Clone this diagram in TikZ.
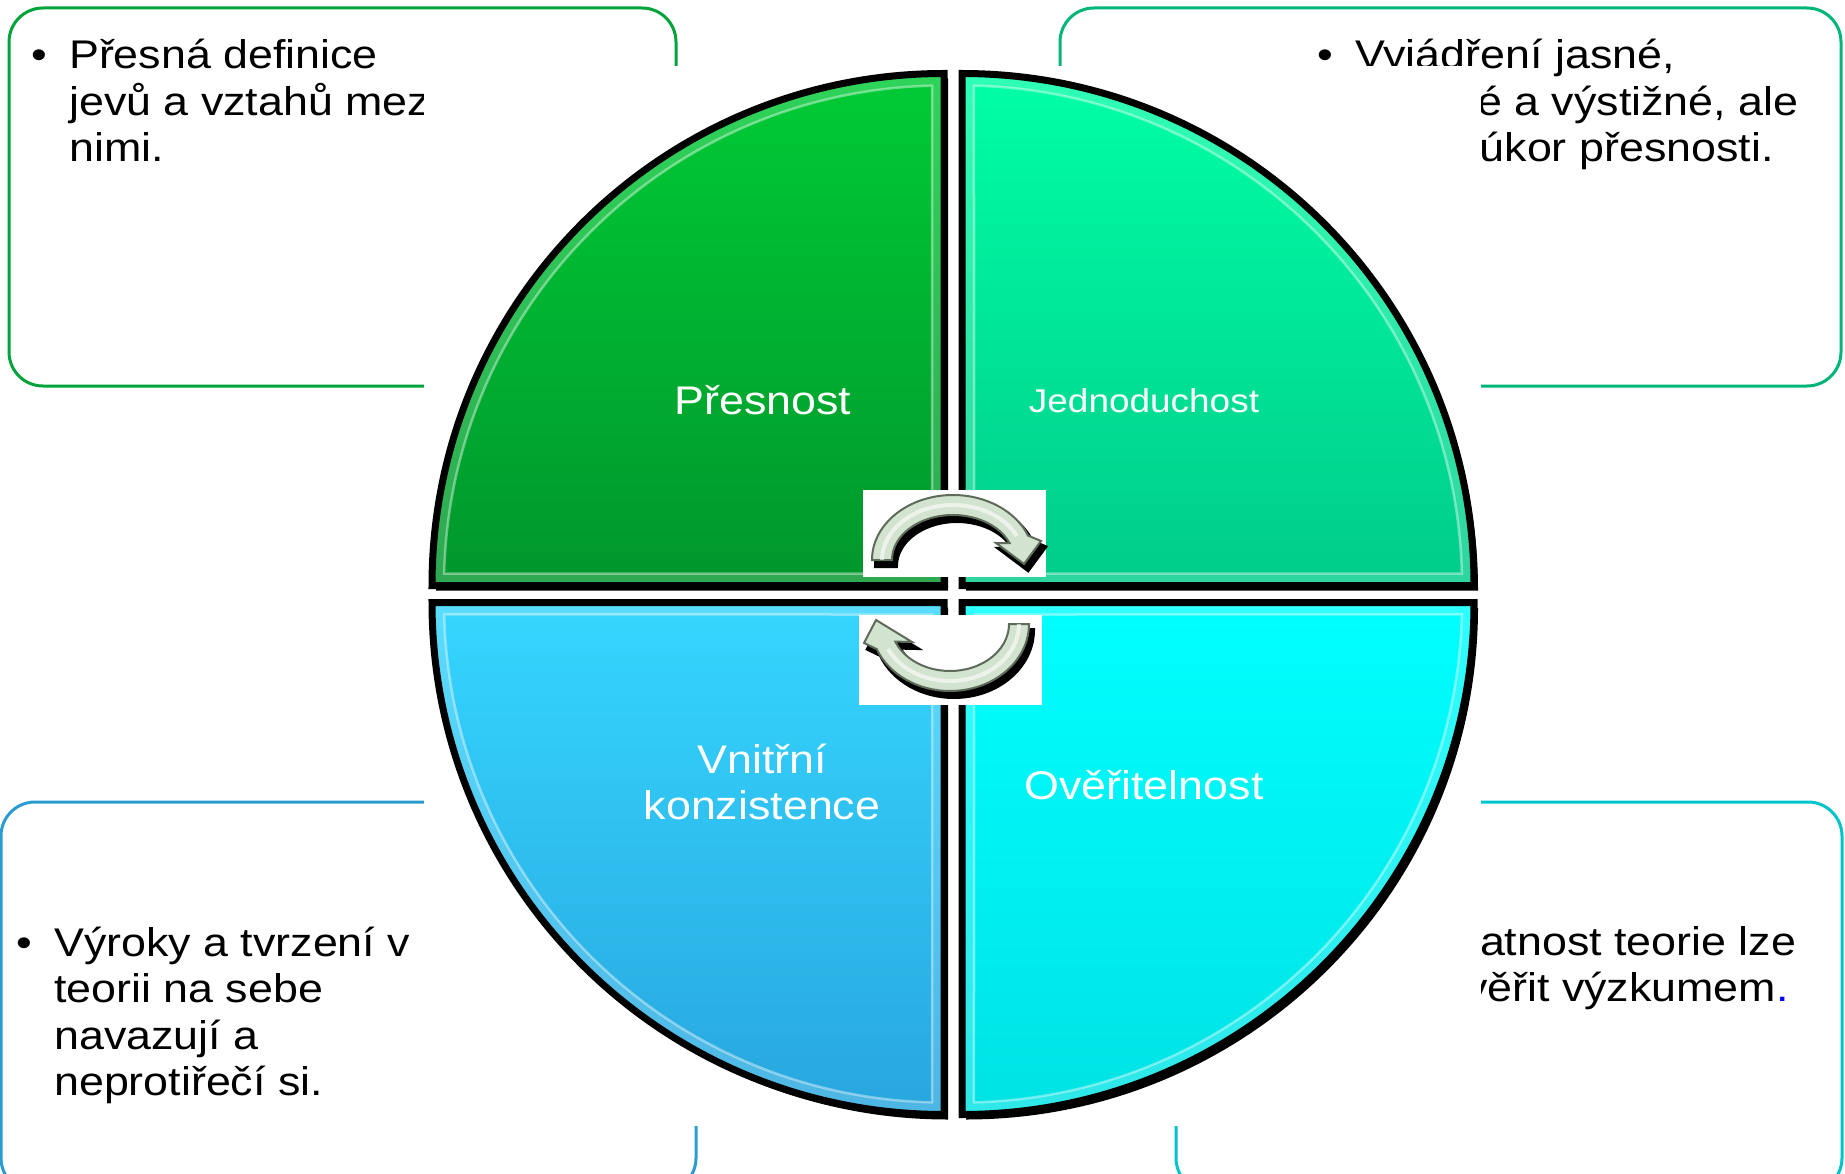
\documentclass[tikz,border=0pt]{standalone}
\usepackage{fontspec}
\setmainfont{Liberation Sans}[FakeStretch=1.12]
\usetikzlibrary{calc}

\definecolor{grnTop}{HTML}{00CB35}
\definecolor{grnBot}{HTML}{00962C}
\definecolor{grnLine}{HTML}{00A43A}
\definecolor{tealTop}{HTML}{00FFA6}
\definecolor{tealBot}{HTML}{00CC8A}
\definecolor{tealLine}{HTML}{00B57A}
\definecolor{bluTop}{HTML}{35D6FF}
\definecolor{bluBot}{HTML}{28A6DE}
\definecolor{bluLine}{HTML}{2A9CD2}
\definecolor{cyaTop}{HTML}{00FFFF}
\definecolor{cyaBot}{HTML}{00E2E4}
\definecolor{cyaLine}{HTML}{00C4CC}
\definecolor{arrowFill}{HTML}{D2E3CF}
\definecolor{arrowEdge}{HTML}{5E6B5B}

\newcommand{\notesize}{\fontsize{40}{46.5}\selectfont}
\newcommand{\bulletnote}[1]{\parbox[t]{720pt}{\hangindent=38pt\hangafter=1\makebox[38pt][l]{\textbullet}#1}}

\tikzset{
  notebox/.style={draw=#1, line width=3pt, rounded corners=34pt, fill=white},
  notetext/.style={anchor=base west, inner sep=0pt, font=\notesize},
  segtext/.style={anchor=base, inner sep=0pt, text=white, font=\notesize},
  arrowshade/.style={fill=black, draw=black, line width=4pt},
  arrowbody/.style={fill=arrowFill, draw=arrowEdge, line width=2pt},
}

\begin{document}
\begin{tikzpicture}[x=1pt, y=1pt]
  \pgfmathsetmacro{\R}{512}
  \pgfmathsetmacro{\inset}{12}
  \useasboundingbox (0,0) rectangle (1845,-1174);
  \clip (0,0) rectangle (1845,-1174);

  \draw[notebox=grnLine] (9,-8) rectangle (676,-386);
  \draw[notebox=tealLine] (1060,-8) rectangle (1841,-386);
  \draw[notebox=bluLine] (1,-802) rectangle (696,-1192);
  \draw[notebox=cyaLine] (1176,-802) rectangle (1842,-1192);

  \node[notetext] (notePres) at (31,-69) {\bulletnote{Přesná definice\newline jevů a vztahů mezi\newline nimi.}};
  \node[notetext] (noteJedn) at (1317,-69) {\bulletnote{Vyjádření jasné,\newline stručné a výstižné, ale\newline ne na úkor přesnosti.}};
  \node[notetext] (noteVnit) at (16,-956) {\bulletnote{Výroky a tvrzení v\newline teorii na sebe\newline navazují a\newline neprotiřečí si.}};
  \node[notetext] (noteOver) at (1402,-955) {\bulletnote{Platnost teorie lze\newline ověřit výzkumem{\color{blue}.}}};

  \fill[white] (424,-66) rectangle (1481,-1126);

  \foreach \sx/\sy/\ang/\ctop/\cbot in {-1/1/90/grnTop/grnBot, 1/1/0/tealTop/tealBot, -1/-1/180/bluTop/bluBot, 1/-1/270/cyaTop/cyaBot} {
    \pgfmathsetmacro{\cx}{953+9*\sx}
    \pgfmathsetmacro{\cy}{-594+8.5*\sy}
    \pgfmathsetmacro{\da}{asin(\inset/(\R-\inset))}
    \fill[black, shift={(4,-5)}] (\cx,\cy) -- ++(\ang:\R) arc[start angle=\ang, delta angle=90, radius=\R] -- cycle;
    \shade[top color=\ctop, bottom color=\cbot] (\cx,\cy) -- ++(\ang:\R) arc[start angle=\ang, delta angle=90, radius=\R] -- cycle;
    \begin{scope}
      \clip (\cx,\cy) -- ++(\ang:\R) arc[start angle=\ang, delta angle=90, radius=\R] -- cycle;
      \draw[white, opacity=.18, line width=2*\inset] (\cx,\cy) -- ++(\ang:\R) arc[start angle=\ang, delta angle=90, radius=\R] -- cycle;
    \end{scope}
    \draw[white, opacity=.4, line width=2.5] (\cx+\inset*\sx,\cy+\inset*\sy) -- ($(\cx,\cy)+(\ang+\da:\R-\inset)$) arc[start angle=\ang+\da, end angle=\ang+90-\da, radius=\R-\inset] -- cycle;
    \draw[black, line width=7] (\cx,\cy) -- ++(\ang:\R) arc[start angle=\ang, delta angle=90, radius=\R] -- cycle;
  }

  \node[segtext] (pres) at (763,-414) {Přesnost};
  \node[segtext, font=\fontsize{33}{38}\selectfont] (jedn) at (1144,-412) {Jednoduchost};
  \node[text=white, inner sep=0pt, align=center, font=\fontsize{40}{46}\selectfont] (vnit) at (762,-781.5) {Vnitřní\\konzistence};
  \node[segtext] (over) at (1144,-799) {Ověřitelnost};

  \fill[white] (863,-490) rectangle (1046,-577);
  \begin{scope}[shift={(953,-560)}]
    \foreach \dx/\dy/\sty in {4/-6/arrowshade, 0/0/arrowbody}
      \path[\sty, shift={(\dx,\dy)}] (180:81 and 65) arc[start angle=180, end angle=22, x radius=81, y radius=65] -- (88,19) -- (71,-4) -- (43,17) -- (22:61 and 45) arc[start angle=22, end angle=180, x radius=61, y radius=45] -- cycle;
    \draw[white, opacity=.6, line width=4] (180:71 and 55) arc[start angle=180, end angle=26, x radius=71, y radius=55];
  \end{scope}

  \fill[white] (859,-615) rectangle (1042,-705);
  \begin{scope}[shift={(950,-624)}]
    \foreach \dx/\dy/\sty in {4/-6/arrowshade, 0/0/arrowbody}
      \path[\sty, shift={(\dx,\dy)}] (0:79 and 67) arc[start angle=0, end angle=-158, x radius=79, y radius=67] -- (-86,-19) -- (-74,4) -- (-38,-18) -- (-158:59 and 47) arc[start angle=-158, end angle=0, x radius=59, y radius=47] -- cycle;
    \draw[white, opacity=.6, line width=4] (0:69 and 57) arc[start angle=0, end angle=-154, x radius=69, y radius=57];
  \end{scope}
\end{tikzpicture}
\end{document}
